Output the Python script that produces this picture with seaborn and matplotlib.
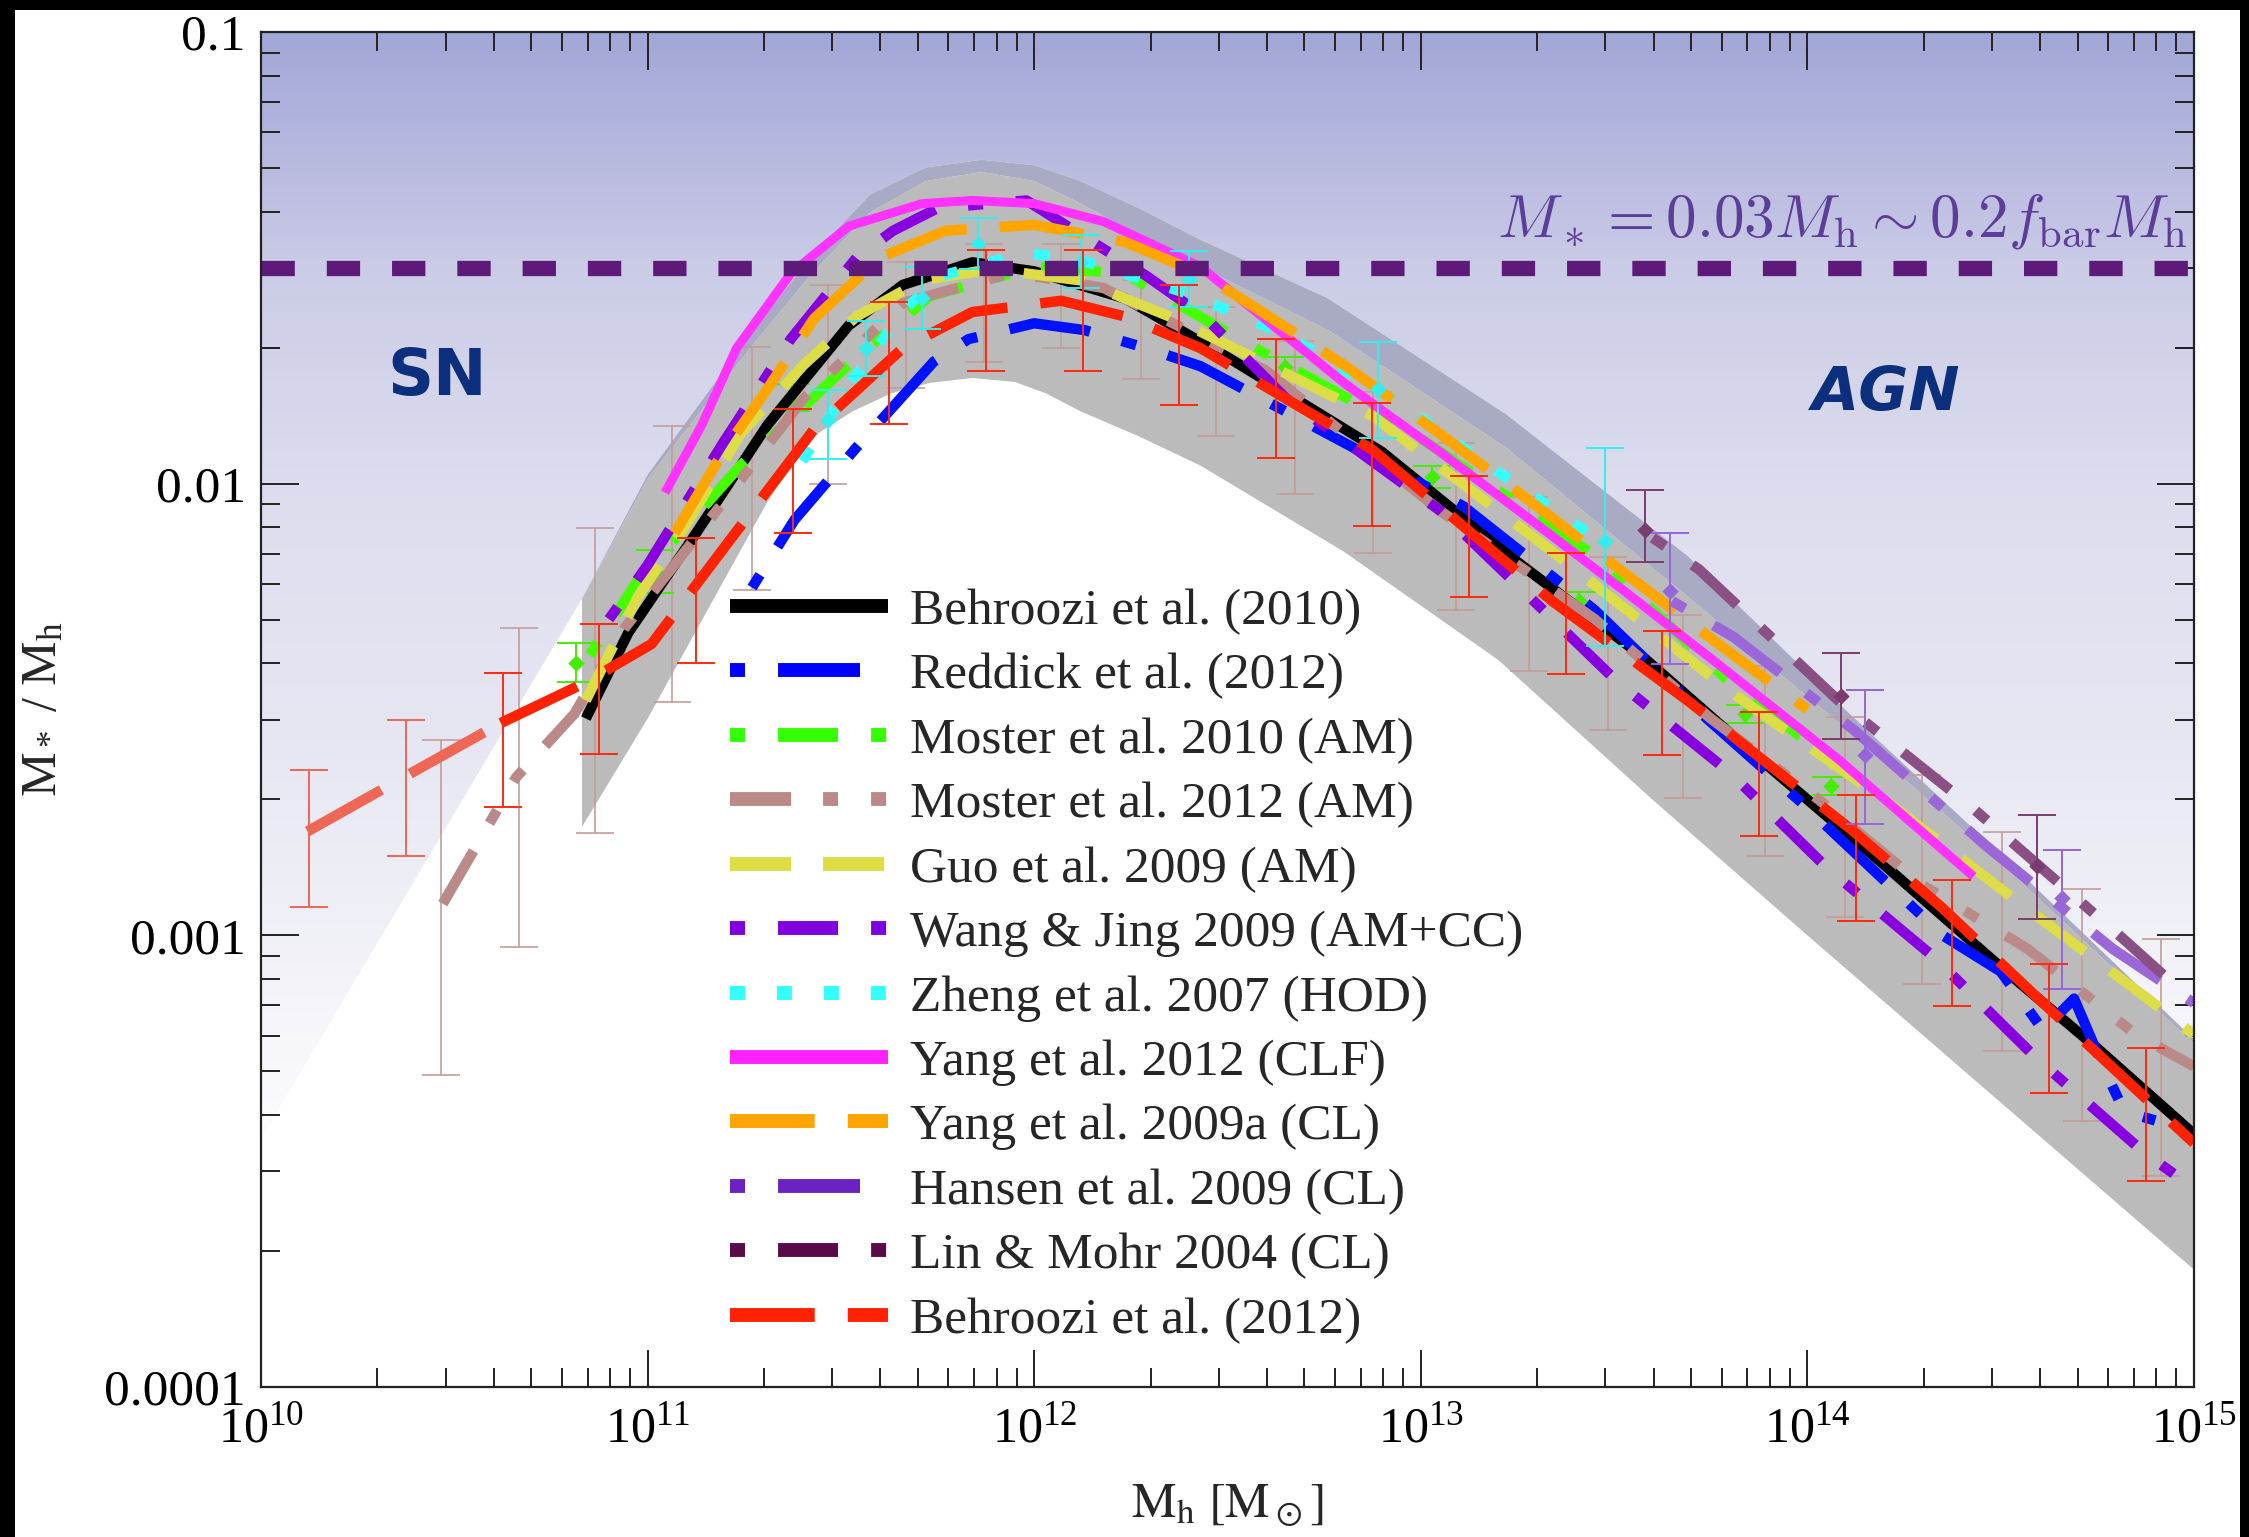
import numpy as np
import pandas as pd
import matplotlib
matplotlib.use('Agg')
import matplotlib.pyplot as plt
import seaborn as sns
from matplotlib.lines import Line2D
from matplotlib.patches import Rectangle
from matplotlib.colors import to_rgb

# ---- values: log10(M_h) and log10(M*/M_h) ----
behroozi10_lm = [10.84, 10.95, 11.125, 11.31, 11.52, 11.66, 11.84, 12.0, 12.235, 12.5, 12.9, 13.26, 13.57, 13.85, 14.2, 14.5, 14.75, 15.0]
behroozi10_lr = [-2.52, -2.33, -2.11, -1.87, -1.65, -1.56, -1.51, -1.53, -1.59, -1.72, -1.93, -2.18, -2.38, -2.59, -2.845, -3.07, -3.25, -3.44]

reddick_lm = [11.27, 11.38, 11.54, 11.74, 11.83, 12.0, 12.13, 12.29, 12.43, 12.65, 13.11, 13.45, 13.74, 13.99, 14.35, 14.5, 14.61, 14.69, 14.77, 14.82, 14.9]
reddick_lr = [-2.23, -2.08, -1.92, -1.73, -1.68, -1.645, -1.66, -1.70, -1.74, -1.84, -2.05, -2.28, -2.52, -2.71, -3.0, -3.08, -3.21, -3.14, -3.30, -3.39, -3.41]

moster10_lm = [10.85, 10.97, 11.24, 11.54, 11.73, 12.0, 12.235, 12.53, 13.0, 13.45, 13.8, 14.12]
moster10_lr = [-2.38, -2.22, -1.96, -1.72, -1.585, -1.52, -1.535, -1.68, -1.90, -2.16, -2.44, -2.65]

moster12_lm = [10.47, 10.66, 10.81, 10.94, 11.06, 11.405, 11.66, 11.945, 12.18, 12.6, 13.05, 13.45, 13.75, 14.03, 14.30, 14.57, 14.85, 15.0]
moster12_lr = [-2.93, -2.65, -2.51, -2.32, -2.19, -1.81, -1.60, -1.533, -1.567, -1.75, -2.06, -2.30, -2.52, -2.70, -2.89, -3.03, -3.22, -3.29]

guo_lm = [10.84, 10.975, 11.10, 11.24, 11.40, 11.54, 11.71, 11.89, 12.12, 12.35, 12.875, 13.34, 13.8, 14.2, 14.52, 14.88, 15.0]
guo_lr = [-2.48, -2.25, -2.09, -1.89, -1.74, -1.63, -1.55, -1.525, -1.55, -1.63, -1.85, -2.15, -2.46, -2.70, -2.91, -3.14, -3.22]

wang_lm = [10.9, 11.0, 11.195, 11.37, 11.54, 11.635, 11.75, 11.98, 12.29, 12.44, 12.65, 13.05, 13.22, 13.51, 13.80, 14.05, 14.33, 14.59, 14.87, 15.0]
wang_lr = [-2.30, -2.18, -1.91, -1.68, -1.50, -1.44, -1.39, -1.373, -1.54, -1.63, -1.81, -2.06, -2.20, -2.44, -2.64, -2.85, -3.05, -3.27, -3.48, -3.56]

zheng_lm = [11.40, 11.53, 11.67, 11.76, 11.97, 12.1, 12.4, 12.65, 12.96, 13.15, 13.45]
zheng_lr = [-1.95, -1.77, -1.61, -1.54, -1.49, -1.50, -1.58, -1.67, -1.83, -1.945, -2.12]

yang12_lm = [11.045, 11.14, 11.23, 11.37, 11.52, 11.71, 11.84, 12.0, 12.18, 12.43, 12.806, 13.05, 13.30, 13.53, 13.77, 14.08, 14.43]
yang12_lr = [-2.02, -1.87, -1.70, -1.535, -1.43, -1.38, -1.373, -1.38, -1.42, -1.52, -1.78, -1.93, -2.09, -2.24, -2.40, -2.61, -2.87]

yang09_lm = [11.07, 11.195, 11.31, 11.43, 11.6, 11.77, 12.0, 12.235, 12.43, 12.553, 12.806, 13.05, 13.30, 13.53, 13.77, 14.0]
yang09_lr = [-2.11, -1.93, -1.79, -1.635, -1.50, -1.44, -1.427, -1.465, -1.535, -1.60, -1.74, -1.89, -2.05, -2.20, -2.355, -2.50]

hansen_lm = [13.65, 13.81, 14.12, 14.46, 14.79, 15.0]
hansen_lr = [-2.26, -2.34, -2.545, -2.80, -3.03, -3.15]

linmohr_lm = [13.6, 13.72, 14.08, 14.43, 14.82, 14.95]
linmohr_lr = [-2.12, -2.19, -2.48, -2.72, -3.01, -3.11]

behroozi12_low_lm = [10.12, 10.39, 10.62]
behroozi12_low_lr = [-2.77, -2.64, -2.53]
behroozi12_lm = [10.62, 10.84, 11.01, 11.195, 11.43, 11.66, 11.84, 12.07, 12.235, 12.43, 12.875, 13.34, 13.69, 14.12, 14.35, 14.61, 15.0]
behroozi12_lr = [-2.53, -2.44, -2.355, -2.145, -1.88, -1.70, -1.62, -1.595, -1.63, -1.70, -1.925, -2.26, -2.48, -2.77, -2.94, -3.15, -3.46]

# grey scatter band
band_up_lm = [10.83, 11.0, 11.265, 11.42, 11.575, 11.72, 11.865, 12.0, 12.12, 12.27, 12.43, 12.76, 13.22, 13.69, 14.11, 14.5, 15.0]
band_up_lr = [-2.255, -1.98, -1.67, -1.50, -1.36, -1.30, -1.283, -1.295, -1.33, -1.39, -1.46, -1.59, -1.846, -2.16, -2.51, -2.82, -3.23]
band_in_lr = [-2.255, -1.99, -1.70, -1.54, -1.40, -1.33, -1.31, -1.33, -1.38, -1.45, -1.52, -1.66, -1.92, -2.25, -2.55, -2.84, -3.24]
band_lo_lm = [10.83, 11.0, 11.2, 11.31, 11.42, 11.53, 11.63, 11.73, 11.84, 11.95, 12.03, 12.12, 12.27, 12.43, 12.8, 13.2, 13.6, 14.0, 14.5, 15.0]
band_lo_lr = [-2.76, -2.52, -2.21, -2.04, -1.90, -1.84, -1.80, -1.777, -1.766, -1.775, -1.80, -1.84, -1.895, -1.96, -2.15, -2.39, -2.70, -3.00, -3.37, -3.74]
edge_ext_lm = [10.0, 10.83]
edge_ext_lr = [-3.45, -2.255]

# error bars
red_err_lm = [10.125, 10.375, 10.625, 10.875, 11.125, 11.375, 11.625, 11.875, 12.125, 12.375,
              12.625, 12.875, 13.125, 13.375, 13.625, 13.875, 14.125, 14.375, 14.625, 14.875]
red_err_top = [-2.635, -2.524, -2.419, -2.31, -2.12, -1.835, -1.598, -1.483, -1.483, -1.56,
               -1.68, -1.821, -1.983, -2.153, -2.326, -2.505, -2.689, -2.877, -3.063, -3.249]
red_err_bot = [-2.937, -2.825, -2.716, -2.598, -2.397, -2.109, -1.868, -1.75, -1.75, -1.826,
               -1.943, -2.094, -2.251, -2.421, -2.60, -2.78, -2.968, -3.156, -3.349, -3.544]

rosy_err_lm = [10.466, 10.666, 10.865, 11.063, 11.27, 11.467, 11.668, 11.87, 12.07, 12.276, 12.47, 12.675,
               12.876, 13.09, 13.28, 13.484, 13.678, 13.89, 14.097, 14.297, 14.503, 14.71, 14.915]
rosy_err_top = [-2.567, -2.32, -2.098, -1.872, -1.697, -1.56, -1.509, -1.47, -1.47, -1.55, -1.61, -1.684,
                -1.797, -1.91, -2.03, -2.162, -2.29, -2.404, -2.516, -2.645, -2.771, -2.897, -3.008]
rosy_err_bot = [-3.31, -3.026, -2.773, -2.483, -2.235, -2.0, -1.789, -1.73, -1.70, -1.769, -1.894, -2.023,
                -2.153, -2.28, -2.415, -2.545, -2.696, -2.824, -2.96, -3.108, -3.256, -3.411, -3.533]

green_err_lm = [10.815, 11.02, 11.37, 12.65, 13.03, 13.41, 13.84, 14.06]
green_err_mid = [-2.397, -2.195, -1.81, -1.742, -1.985, -2.26, -2.51, -2.67]
green_err_top = [-2.353, -2.147, -1.78, -1.72, -1.96, -2.24, -2.49, -2.65]
green_err_bot = [-2.44, -2.242, -1.84, -1.765, -2.01, -2.28, -2.53, -2.69]

cyan_err_lm = [11.467, 11.565, 11.71, 11.855, 12.12, 12.40, 12.89, 13.477]
cyan_err_mid = [-1.86, -1.70, -1.59, -1.47, -1.51, -1.55, -1.79, -2.127]
cyan_err_top = [-1.793, -1.64, -1.52, -1.412, -1.45, -1.485, -1.686, -1.92]
cyan_err_bot = [-1.945, -1.762, -1.657, -1.525, -1.567, -1.61, -1.90, -2.36]

linmohr_err_lm = [13.58, 14.087, 14.594]
linmohr_err_mid = [-2.103, -2.47, -2.846]
linmohr_err_top = [-2.014, -2.375, -2.733]
linmohr_err_bot = [-2.173, -2.565, -2.964]

hansen_err_lm = [13.645, 14.15, 14.658]
hansen_err_mid = [-2.237, -2.60, -2.918]
hansen_err_top = [-2.11, -2.457, -2.811]
hansen_err_bot = [-2.40, -2.754, -3.119]

fbar_level = 0.03

y_ticks = [1e-4, 1e-3, 1e-2, 1e-1]
y_ticklabels = ['0.0001', '0.001', '0.01', '0.1']
x_ticks = [1e10, 1e11, 1e12, 1e13, 1e14, 1e15]
x_ticklabels = [r'$\mathdefault{10^{%d}}$' % e for e in range(10, 16)]

# background gradient stops (log10 ratio -> colour)
grad_lr = [-4.0, -3.45, -3.0, -2.5, -2.0, -1.52, -1.3, -1.0]
grad_col = ['#FFFFFF', '#FCFCFE', '#F0F0F7', '#E5E5F2', '#DCDCEE', '#CACBE6', '#B9BADF', '#A0A6D6']

# ---- style ----
sns.set_theme(style='ticks')
plt.rcParams['font.family'] = ['Liberation Serif', 'DejaVu Serif']
plt.rcParams['mathtext.fontset'] = 'stix'
plt.rcParams['lines.scale_dashes'] = False

fig = plt.figure(figsize=(22.49, 15.37), dpi=100)
fig.patch.set_facecolor('white')
ax = fig.add_axes([0.1161, 0.0976, 0.8594, 0.8816])
ax.set_xscale('log')
ax.set_yscale('log')
ax.set_xlim(1e10, 1e15)
ax.set_ylim(1e-4, 0.1)


def p(v):
    return 10 ** np.asarray(v, dtype=float)


# background: vertical gradient, white below the band
rgb = np.array([to_rgb(c) for c in grad_col])
edges = np.linspace(-4, -1, 301)
for a, b in zip(edges[:-1], edges[1:]):
    m = 0.5 * (a + b)
    col = [np.interp(m, grad_lr, rgb[:, k]) for k in range(3)]
    ax.axhspan(10 ** a, 10 ** b, color=col, lw=0, antialiased=False, zorder=0)

wx = list(edge_ext_lm[:-1]) + band_up_lm
wy = list(edge_ext_lr[:-1]) + band_up_lr
ax.fill(np.r_[p(wx), 1e15, 1e10], np.r_[p(wy), 1e-4, 1e-4], color='white', lw=0, zorder=0.5)

# grey band with faint bluish top
ax.fill(np.r_[p(band_lo_lm), p(band_up_lm)[::-1]], np.r_[p(band_lo_lr), p(band_in_lr)[::-1]],
        color='#BBBBBB', lw=0, zorder=0.6)
ax.fill(np.r_[p(band_up_lm), p(band_up_lm)[::-1]], np.r_[p(band_in_lr), p(band_up_lr)[::-1]],
        color='#A9AAC3', lw=0, zorder=0.6)


def errs(lm, top, bot, mid, color, marker=None, lw=1.4, z=2):
    mid_v = p(mid)
    ax.errorbar(p(lm), mid_v, yerr=[mid_v - p(bot), p(top) - mid_v], fmt='none', ecolor=color,
                elinewidth=lw, capsize=14, capthick=lw, zorder=z)
    if marker:
        ax.scatter(p(lm), mid_v, marker=marker, s=70, color=color, lw=0, zorder=z)


errs(rosy_err_lm, rosy_err_top, rosy_err_bot, np.add(rosy_err_top, rosy_err_bot) / 2, '#C39C99', lw=1.2, z=1.5)
errs(red_err_lm[:2], red_err_top[:2], red_err_bot[:2], np.add(red_err_top[:2], red_err_bot[:2]) / 2, '#EE6655', z=1.6)
errs(red_err_lm[2:], red_err_top[2:], red_err_bot[2:], np.add(red_err_top[2:], red_err_bot[2:]) / 2, '#FF2A10', z=6)
errs(green_err_lm, green_err_top, green_err_bot, green_err_mid, '#44EE00', marker='D')
errs(cyan_err_lm, cyan_err_top, cyan_err_bot, cyan_err_mid, '#33EEEE', marker='D', z=5)
errs(linmohr_err_lm, linmohr_err_top, linmohr_err_bot, linmohr_err_mid, '#7A3C6E', marker='D', z=5)
errs(hansen_err_lm, hansen_err_top, hansen_err_bot, hansen_err_mid, '#9566D8', marker='D', z=5)


def curve(lm, lr, color, dashes=None, lw=7.5, alpha=1.0, z=3):
    df = pd.DataFrame({'Mh': p(lm), 'ratio': p(lr)})
    sns.lineplot(data=df, x='Mh', y='ratio', ax=ax, color=color, lw=lw, alpha=alpha,
                 sort=False, estimator=None, errorbar=None, legend=False, zorder=z)
    line = ax.lines[-1]
    if dashes:
        line.set_dashes(dashes)
    line.set_solid_capstyle('butt')
    line.set_dash_capstyle('butt')


D_DOTLONG = [10.8, 23.8, 59, 23.8]
D_DOTDASH = [10.8, 23.8, 43.2, 23.8]
D_DASHDOTDOT = [44, 23, 10.8, 23.8, 10.8, 23.8]
D_DASH = [44, 23]
D_DOT = [10.8, 23]
D_LONG = [61, 23.8]

curve(behroozi10_lm, behroozi10_lr, 'black', z=3.0)
curve(reddick_lm, reddick_lr, '#0011FF', D_DOTLONG, z=3.1)
curve(moster10_lm, moster10_lr, '#44FF00', D_DOTDASH, z=3.2)
curve(moster12_lm, moster12_lr, '#BA8A88', D_DASHDOTDOT, z=3.3)
curve(guo_lm, guo_lr, '#DDDD4A', D_DASH, z=3.4)
curve(wang_lm, wang_lr, '#8800DD', D_DOTDASH, z=3.5)
curve(zheng_lm, zheng_lr, '#33FFFF', D_DOT, z=3.6)
curve(yang12_lm, yang12_lr, '#FF33FF', lw=6.5, z=3.7)
curve(yang09_lm, yang09_lr, '#FFA500', D_LONG, z=3.8)
curve(hansen_lm, hansen_lr, '#9A66D8', D_DOTLONG, z=3.9)
curve(linmohr_lm, linmohr_lr, '#8A5084', D_DOTDASH, z=4.0)
curve(behroozi12_low_lm, behroozi12_low_lr, '#EE6655', D_LONG, z=4.1)
curve(behroozi12_lm, behroozi12_lr, '#FF2200', D_LONG, z=4.1)

ax.axhline(fbar_level, color='#5E1A78', lw=11, dashes=(24, 23), dash_capstyle='butt', zorder=7)

ax.text(10 ** 14.985, 10 ** -1.452, r'$M_* = 0.03M_\mathrm{h} \sim 0.2f_\mathrm{bar}M_\mathrm{h}$',
        math_fontfamily='cm', fontsize=44, color='#5C3D99', ha='right', va='baseline', zorder=8)
ax.text(0.091, 10 ** -1.764, 'SN', transform=ax.get_yaxis_transform(), family='DejaVu Sans',
        fontsize=46, fontweight='bold', color='#0B2F7D', ha='center', va='center', zorder=8)
ax.text(10 ** 14.203, 10 ** -1.80, 'AGN', family='DejaVu Sans', fontsize=44, fontweight='bold',
        style='italic', color='#0B2F7D', ha='center', va='center', zorder=8)

# legend
leg_items = [
    ('Behroozi et al. (2010)', 'black', None),
    ('Reddick et al. (2012)', '#0000FF', D_DOTLONG),
    ('Moster et al. 2010 (AM)', '#33FF00', D_DOTDASH),
    ('Moster et al. 2012 (AM)', '#BC8A86', D_DASHDOTDOT),
    ('Guo et al. 2009 (AM)', '#DDDD44', D_DASH),
    ('Wang & Jing 2009 (AM+CC)', '#8000DD', D_DOTDASH),
    ('Zheng et al. 2007 (HOD)', '#33FFFF', D_DOT),
    ('Yang et al. 2012 (CLF)', '#FF22FF', None),
    ('Yang et al. 2009a (CL)', '#FFA500', D_LONG),
    ('Hansen et al. 2009 (CL)', '#6A22C2', D_DOTLONG),
    ('Lin & Mohr 2004 (CL)', '#5A0A48', D_DOTDASH),
    ('Behroozi et al. (2012)', '#FF2200', D_LONG),
]
handles = []
for lab, col, ds in leg_items:
    h = Line2D([], [], color=col, lw=10, solid_capstyle='butt', dash_capstyle='butt', label=lab)
    if ds:
        h.set_dashes(ds)
    handles.append(h)
ax.legend(handles=handles, loc='upper left', bbox_to_anchor=(0.2426, 0.5897), frameon=False,
          fontsize=37, handlelength=3.07, handletextpad=0.43, labelspacing=0.34,
          borderpad=0, borderaxespad=0)

# axes, ticks, labels
ax.set_xticks(x_ticks)
ax.set_xticklabels(x_ticklabels)
ax.set_yticks(y_ticks)
ax.set_yticklabels(y_ticklabels)
ax.xaxis.set_minor_formatter(matplotlib.ticker.NullFormatter())
ax.yaxis.set_minor_formatter(matplotlib.ticker.NullFormatter())
ax.tick_params(which='major', direction='in', length=27, width=1.4, top=True, right=True,
               color='#222222', labelcolor='black')
ax.tick_params(axis='x', which='major', pad=14, labelsize=36)
ax.tick_params(axis='y', which='major', pad=11, labelsize=37)
ax.tick_params(which='minor', direction='in', length=14, width=1.4, top=True, right=True, color='#222222')
for s in ax.spines.values():
    s.set_linewidth(1.6)
    s.set_color('#222222')
    s.set_zorder(9)
ax.set_xlabel(r'$\mathrm{M_h\ [M_\odot]}$', fontsize=36)
ax.set_ylabel(r'$\mathdefault{M_*\ /\ M_h}$', fontsize=36)
ax.xaxis.set_label_coords(0.5, -0.071)
ax.yaxis.set_label_coords(-0.1005, 0.5)
ax.grid(False)

# dark frame of the original slide
for rect in [(0, 0, 15 / 2249, 1), (0, 1 - 10 / 1537, 1, 10 / 1537), (1 - 9 / 2249, 0, 9 / 2249, 1)]:
    fig.add_artist(Rectangle(rect[:2], rect[2], rect[3], transform=fig.transFigure,
                             color='black', lw=0, zorder=20))

fig.savefig('out.png', dpi=100)
